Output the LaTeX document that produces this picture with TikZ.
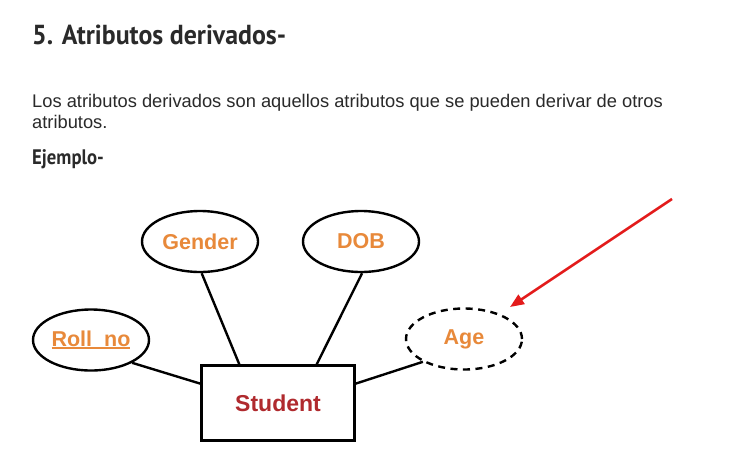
\documentclass[tikz,border=0pt]{standalone}
\usepackage{fontspec}
\usepackage{graphicx}
\usepackage{xcolor}
\setmainfont{Liberation Sans}
\newfontfamily\headfont{PT Sans}
\usetikzlibrary{arrows.meta,shapes.geometric,positioning}

\definecolor{attrorange}{HTML}{E8893A}
\definecolor{entityred}{HTML}{B02A2E}
\definecolor{textgray}{HTML}{2A2A2A}
\definecolor{pointerred}{HTML}{E31B1B}

% underline for key attributes
\newcommand{\keyattr}[1]{\setbox0\hbox{#1}\rlap{\rule[-2.6pt]{\wd0}{1.6pt}}\box0}

\tikzset{
  attr/.style={ellipse,draw,line width=2.4pt,minimum width=116pt,minimum height=61pt,inner sep=0pt,
    text=attrorange,font=\fontsize{21.5}{24}\selectfont\bfseries},
  derived/.style={attr,dash pattern=on 7pt off 5.5pt},
  entity/.style={rectangle,draw,line width=2.4pt,minimum width=153pt,minimum height=75pt,inner sep=0pt,
    text=entityred,font=\fontsize{23}{26}\selectfont\bfseries},
  link/.style={line width=2.4pt},
  pointer/.style={line width=2.6pt,pointerred,-{Triangle[length=14pt,width=11pt]}},
  heading/.style={anchor=base west,inner sep=0pt,text=textgray,font=\headfont\bfseries},
  body/.style={anchor=base west,inner sep=0pt,text=textgray,font=\fontsize{18.3}{21}\selectfont}
}

\begin{document}
\begin{tikzpicture}[x=1pt,y=-1pt]
\fill[white] (0,0) rectangle (743,451);
\useasboundingbox (0,0) rectangle (743,451);

\node[heading,font=\headfont\bfseries\fontsize{27.5}{30}\selectfont] (title) at (32,44.5) {\scalebox{0.94}[1]{5. Atributos derivados-}};
\node[body] (line1) at (32,107) {Los atributos derivados son aquellos atributos que se pueden derivar de otros};
\node[body] (line2) at (32,128) {atributos.};
\node[heading,font=\headfont\bfseries\fontsize{21}{24}\selectfont] (ejemplo) at (32,164) {\scalebox{0.89}[1]{Ejemplo-}};

\node[entity] (student) at (278,403) {Student};
\node[attr] (gender) at (200,241.5) {Gender};
\node[attr] (dob) at (361,241.5) {DOB};
\node[attr] (roll) at (91,340) {\keyattr{Roll\_no}};
\node[derived] (age) at (464,339) {Age};

\draw[link] (roll.-29) -- (student.166);
\draw[link] (gender.-87) -- (student.135);
\draw[link] (dob.-88) -- (student.45);
\draw[link] (student.14) -- (age.209);

\coordinate (arrowstart) at (672,199);
\coordinate (arrowtip) at (510,307);
\draw[pointer] (arrowstart) -- (arrowtip);
\end{tikzpicture}
\end{document}
